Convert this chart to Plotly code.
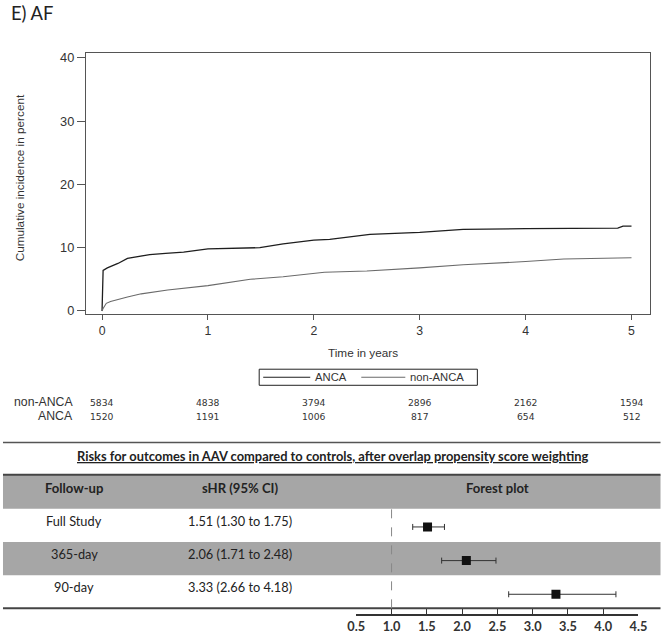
import plotly.graph_objects as go

# ---------------- data ----------------
t_anca = [0, 0.01, 0.05, 0.10, 0.15, 0.24, 0.30, 0.45, 0.60, 0.77, 1.0, 1.25, 1.49, 1.71, 2.0, 2.15, 2.53, 3.0, 3.41, 4.0, 4.5, 4.87, 4.92, 5.0]
ci_anca = [0, 6.4, 6.8, 7.1, 7.5, 8.3, 8.5, 8.9, 9.1, 9.3, 9.8, 9.9, 10.0, 10.6, 11.2, 11.3, 12.1, 12.4, 12.9, 13.0, 13.05, 13.1, 13.4, 13.4]
t_non = [0, 0.01, 0.04, 0.08, 0.24, 0.37, 0.62, 1.0, 1.4, 1.71, 2.1, 2.5, 3.0, 3.41, 4.0, 4.36, 5.0]
ci_non = [0, 0.4, 1.2, 1.5, 2.2, 2.7, 3.3, 4.0, 5.0, 5.4, 6.1, 6.3, 6.8, 7.3, 7.8, 8.2, 8.4]

risk_times = [0, 1, 2, 3, 4, 5]
risk_non = [5834, 4838, 3794, 2896, 2162, 1594]
risk_anca = [1520, 1191, 1006, 817, 654, 512]

followup = ["Full Study", "365-day", "90-day"]
shr = [1.51, 2.06, 3.33]
ci_lo = [1.30, 1.71, 2.66]
ci_hi = [1.75, 2.48, 4.18]
forest_ticks = [0.5, 1.0, 1.5, 2.0, 2.5, 3.0, 3.5, 4.0, 4.5]

W, H = 661, 640
# layout helpers: target pixel positions -> paper fractions (with a small
# correction for how the page ends up framed in the capture)
SX, OX, SY, OY = 0.972, 9.0, 0.986, 3.5
FS = 1.0 / 0.978
def px(x):
    return (x - OX) / SX / W
def py(y):
    return 1 - (y - OY) / SY / H
def fs(s):
    return round(s * FS, 2)

C_ANCA = "#1e1e1e"
C_NON = "#6a6a6a"

fig = go.Figure()

fig.add_trace(go.Scatter(x=t_anca, y=ci_anca, mode="lines", name="ANCA", showlegend=False,
                         line=dict(color=C_ANCA, width=1.3)))
fig.add_trace(go.Scatter(x=t_non, y=ci_non, mode="lines", name="non-ANCA", showlegend=False,
                         line=dict(color=C_NON, width=1.1)))

# forest plot
rows = list(range(len(followup)))
fig.add_trace(go.Scatter(
    x=shr, y=rows, mode="markers", showlegend=False,
    marker=dict(symbol="square", size=9, color="#111111"),
    error_x=dict(type="data", symmetric=False,
                 array=[h - e for h, e in zip(ci_hi, shr)],
                 arrayminus=[e - l for e, l in zip(shr, ci_lo)],
                 color="#333333", thickness=1, width=3),
    xaxis="x2", yaxis="y2"))

shapes = []
# table background bands
shapes.append(dict(type="rect", xref="paper", yref="paper", x0=px(3), x1=px(660),
                   y0=py(508), y1=py(474), fillcolor="#a6a6a6", line_width=0, layer="below"))
shapes.append(dict(type="rect", xref="paper", yref="paper", x0=px(3), x1=px(660),
                   y0=py(574), y1=py(541), fillcolor="#a6a6a6", line_width=0, layer="below"))
# lines
shapes.append(dict(type="line", xref="paper", yref="paper", x0=px(3), x1=px(660),
                   y0=py(442), y1=py(442), line=dict(color="#555555", width=1.5)))
shapes.append(dict(type="line", xref="paper", yref="paper", x0=px(3), x1=px(660),
                   y0=py(474), y1=py(474), line=dict(color="#444444", width=2)))
shapes.append(dict(type="line", xref="paper", yref="paper", x0=px(3), x1=px(660),
                   y0=py(607), y1=py(607), line=dict(color="#444444", width=2)))
# reference line at 1.0
shapes.append(dict(type="line", xref="x2", yref="paper", x0=1.0, x1=1.0,
                   y0=py(607), y1=py(508), line=dict(color="#888888", width=1, dash="dash")))
# legend box
shapes.append(dict(type="rect", xref="paper", yref="paper", x0=px(259), x1=px(477),
                   y0=py(385), y1=py(369), line=dict(color="#222", width=1), fillcolor="white"))
shapes.append(dict(type="line", xref="paper", yref="paper", x0=px(263), x1=px(310),
                   y0=py(377), y1=py(377), line=dict(color=C_ANCA, width=1.2)))
shapes.append(dict(type="line", xref="paper", yref="paper", x0=px(361), x1=px(405),
                   y0=py(377), y1=py(377), line=dict(color=C_NON, width=1.1)))

ann = []
def A(text, x, y, xanchor="center", yanchor="middle", font=None, xref="paper", **kw):
    d = dict(text=text, x=x, y=y, xref=xref, yref="paper", xanchor=xanchor, yanchor=yanchor,
             showarrow=False, font=font or {})
    d.update(kw)
    ann.append(d)

A("E) AF", 0, py(14), xanchor="left", font=dict(family="Lato", size=fs(18), color="#222"))
A("Cumulative incidence in percent", px(19), py(179), textangle=-90,
  font=dict(family="Liberation Sans", size=fs(11.5), color="#333"))
A("Time in years", px(363), py(352), font=dict(family="Liberation Sans", size=fs(11.5), color="#333"))

# legend labels
lg_font = dict(family="Liberation Sans", size=fs(11), color="#333")
A("ANCA", px(313), py(377), xanchor="left", font=lg_font)
A("non-ANCA", px(408), py(377), xanchor="left", font=lg_font)

# risk table
lab_font = dict(family="Liberation Sans", size=fs(12), color="#333")
A("non-ANCA", px(75), py(402), xanchor="right", font=lab_font)
A("ANCA", px(75), py(416), xanchor="right", font=lab_font)
rk_font = dict(family="DejaVu Sans", size=fs(9), color="#333")
for t, a, b in zip(risk_times, risk_non, risk_anca):
    A(str(a), t, py(402), xref="x", font=rk_font)
    A(str(b), t, py(416), xref="x", font=rk_font)

# table texts
A("<b><u>Risks for outcomes in AAV compared to controls, after overlap propensity score weighting</u></b>",
  px(332), py(455), font=dict(family="Lato", size=fs(12.6), color="#222"))
hdr_font = dict(family="Lato", size=fs(12.8), color="#222")
A("<b>Follow-up</b>", px(74), py(487), font=hdr_font)
A("<b>sHR (95% CI)</b>", px(240), py(487), font=hdr_font)
A("<b>Forest plot</b>", px(497), py(487), font=hdr_font)
row_y = [520, 553, 586]
row_font = dict(family="Lato", size=fs(12.5), color="#222")
for name, e, l, h, yy in zip(followup, shr, ci_lo, ci_hi, row_y):
    A(name, px(74), py(yy), font=row_font)
    A(f"{e:.2f} ({l:.2f} to {h:.2f})", px(240), py(yy), font=row_font)

fig.update_layout(
    width=W, height=H, autosize=False,
    margin=dict(l=0, r=0, t=0, b=0),
    paper_bgcolor="white", plot_bgcolor="white",
    shapes=shapes, annotations=ann,
    showlegend=False,
    xaxis=dict(domain=[px(86), px(649)], range=[-0.151, 5.17], tickvals=risk_times,
               showline=True, mirror=True, linecolor="#555", linewidth=1.2,
               ticks="outside", ticklen=5, tickcolor="#555", showgrid=False, zeroline=False,
               tickfont=dict(family="Liberation Sans", size=fs(12), color="#333")),
    yaxis=dict(domain=[py(314), py(54)], range=[-0.48, 40.8], tickvals=[0, 10, 20, 30, 40],
               showline=True, mirror=True, linecolor="#555", linewidth=1.2,
               ticks="outside", ticklen=8, tickcolor="#555", showgrid=False, zeroline=False,
               tickfont=dict(family="Liberation Sans", size=fs(12.5), color="#333")),
    xaxis2=dict(domain=[px(356), px(638)], range=[0.5, 4.5], anchor="y2",
                tickvals=forest_ticks, ticktext=[f"<b>{v:.1f}</b>" for v in forest_ticks],
                showline=True, linecolor="#333", linewidth=1.5, ticks="inside", ticklen=5,
                tickcolor="#333", showgrid=False, zeroline=False,
                tickfont=dict(family="Lato", size=fs(12.5), color="#333")),
    yaxis2=dict(domain=[py(613), py(508)], range=[2.597, -0.537], anchor="x2",
                showticklabels=False, showgrid=False, zeroline=False, showline=False, ticks=""),
)

fig.write_html(
    "out.html",
    config={"displayModeBar": False, "staticPlot": True},
    post_script=("document.documentElement.style.margin='0px';"
                 "document.body.style.margin='0px';"
                 "document.body.style.overflow='hidden';"),
)
